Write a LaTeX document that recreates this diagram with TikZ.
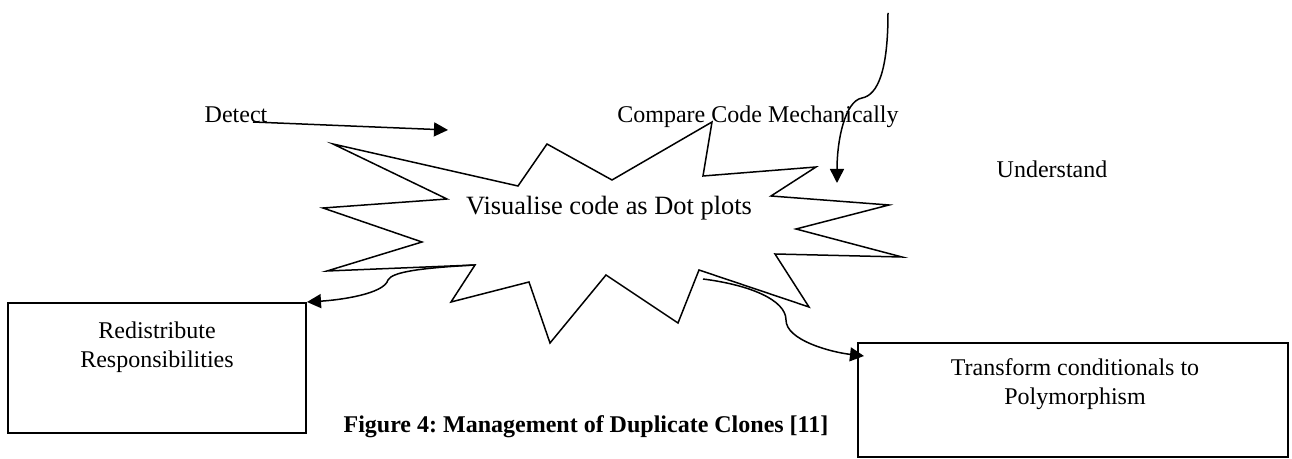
\documentclass[tikz,border=0pt]{standalone}
\usepackage{fontspec}
\setmainfont{Liberation Serif}
\usetikzlibrary{arrows.meta,positioning}
\frenchspacing

\begin{document}
\begin{tikzpicture}[x=0.5pt,y=-0.5pt,line width=0.75pt,
  box/.style={draw,line width=1pt,inner sep=0pt},
  txt/.style={font=\fontsize{12}{14.5}\selectfont,align=center,
    inner sep=0pt,anchor=base},
  link/.style={-{Triangle[length=7pt,width=7pt]}}]
  \useasboundingbox (0,0) rectangle (1292,459);

  % the star
  \draw (333,144) -- (518,186) -- (547,144) -- (612,180) -- (712,122)
    -- (703,176) -- (816,167) -- (771,196) -- (889,205) -- (796,229)
    -- (902,257) -- (775,254) -- (809,307) -- (699,270) -- (678,323)
    -- (606,275) -- (550,343) -- (529,282) -- (451,302) -- (475,265)
    -- (327,271) -- (422,242) -- (323,208) -- (447,199) -- cycle;
  \node[txt,font=\fontsize{13.2}{16}\selectfont] (dot) at (609,215)
    {Visualise code as Dot plots};

  \node[txt] (detect) at (236,123) {Detect};
  \node[txt] (compare) at (758,123) {Compare Code Mechanically};
  \node[txt] (understand) at (1052,178) {Understand};

  \node[box,minimum width=149pt,minimum height=65pt] (redist) at (157,368) {};
  \node[txt] (redistT) at (157,368) {Redistribute\\Responsibilities};
  \node[box,minimum width=215pt,minimum height=57pt] (transf) at (1073,400) {};
  \node[txt] (transfT) at (1075,405) {Transform conditionals to\\Polymorphism};

  \node[txt,font=\fontsize{12}{14}\selectfont\bfseries] (caption) at (586,433)
    {Figure 4: Management of Duplicate Clones [11]};

  % connectors
  \coordinate (detTail) at (253,122);
  \coordinate (detTip) at (448,130);
  \coordinate (top) at (888,13);
  \coordinate (cmpTip) at (837,183);
  \coordinate (tipL) at (475,265);
  \coordinate (tipR) at (703,279);
  \coordinate (trTip) at (864,356);

  \draw[link] (detTail) -- (detTip);
  \draw[link] (top) .. controls (888,70) and (878,95) .. (862,98)
    .. controls (845,101) and (837,140) .. (cmpTip);
  \draw[link] (tipL) .. controls (420,268) and (392,272) .. (388,280)
    .. controls (384,294) and (340,300) .. (redist.north east);
  \draw[link] (tipR) .. controls (750,285) and (786,300) .. (786,320)
    .. controls (786,340) and (830,352) .. (trTip);
\end{tikzpicture}
\end{document}
